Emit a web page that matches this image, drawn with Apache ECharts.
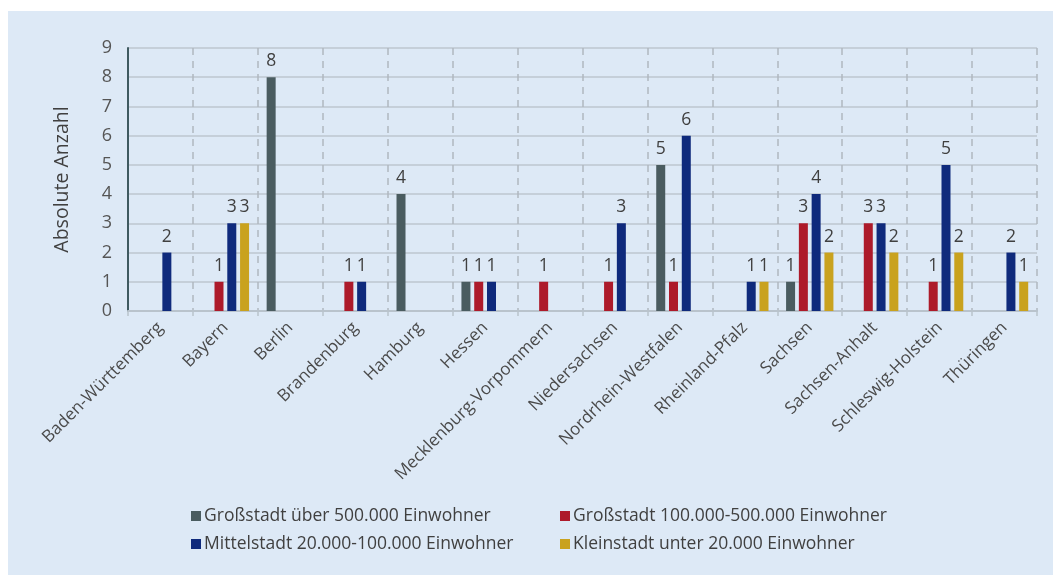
<!DOCTYPE html>
<html>
<head>
<meta charset="utf-8">
<script src="https://cdn.jsdelivr.net/npm/echarts@6/dist/echarts.min.js"></script>
<style>
html,body{margin:0;padding:0;background:#fff;}
#c{width:1053px;height:575px;}
</style>
</head>
<body>
<div id="c"></div>
<script>
const categories = ['Baden-Württemberg','Bayern','Berlin','Brandenburg','Hamburg','Hessen','Mecklenburg-Vorpommern','Niedersachsen','Nordrhein-Westfalen','Rheinland-Pfalz','Sachsen','Sachsen-Anhalt','Schleswig-Holstein','Thüringen'];
const seriesNames = ['Großstadt über 500.000 Einwohner','Großstadt 100.000-500.000 Einwohner','Mittelstadt 20.000-100.000 Einwohner','Kleinstadt unter 20.000 Einwohner'];
const grossstadt500 = [0,0,8,0,4,1,0,0,5,0,1,0,0,0];
const grossstadt100 = [0,1,0,1,0,1,1,1,1,0,3,3,1,0];
const mittelstadt   = [2,3,0,1,0,1,0,3,6,1,4,3,5,2];
const kleinstadt    = [0,3,0,0,0,0,0,0,0,1,2,2,2,1];
const yTicks = [0,1,2,3,4,5,6,7,8,9];
const colors = ['#4a5c60','#ad1a2a','#0f2a7c','#c9a21e'];

const chart = echarts.init(document.getElementById('c'));
const allData = [grossstadt500, grossstadt100, mittelstadt, kleinstadt];
const font = '"Open Sans", "Noto Sans", sans-serif';

const series = allData.map((d, i) => ({
  name: seriesNames[i],
  type: 'bar',
  data: d,
  barWidth: 9,
  barGap: '42%',
  itemStyle: { color: colors[i] },
  label: {
    show: true,
    position: 'top',
    distance: 7,
    color: '#404040',
    fontSize: 17.5,
    fontFamily: font,
    formatter: p => p.value === 0 ? '' : String(p.value)
  }
}));

const legendPos = [[186, 502], [555, 502], [186, 530], [555, 530]];
const legends = seriesNames.map((n, i) => ({
  data: [n],
  left: legendPos[i][0],
  top: legendPos[i][1],
  itemWidth: 10,
  itemHeight: 10,
  itemGap: 0,
  icon: 'rect',
  selectedMode: false,
  textStyle: { fontSize: 17.5, color: '#404040', fontFamily: font, padding: [0,0,0,-2] }
}));

chart.setOption({
  backgroundColor: '#ffffff',
  animation: false,
  color: colors,
  graphic: [{
    type: 'rect',
    z: -100,
    silent: true,
    shape: { x: 8, y: 11, width: 1045, height: 564 },
    style: { fill: '#dde9f6' }
  }],
  legend: legends,
  grid: { left: 128, right: 16, top: 48, bottom: 264, containLabel: false },
  xAxis: {
    type: 'category',
    data: categories,
    axisLine: { show: true, lineStyle: { color: '#b9c3cc', width: 2 } },
    axisTick: { show: true, length: 5, lineStyle: { color: '#b9c3cc', width: 1.5 } },
    splitLine: { show: true, lineStyle: { color: '#b0b8c0', type: [7, 6], width: 1.5 } },
    axisLabel: {
      rotate: 45,
      interval: 0,
      color: '#4a4a4a',
      fontSize: 17,
      fontFamily: font,
      margin: 14
    }
  },
  yAxis: {
    type: 'value',
    min: 0,
    max: 9,
    interval: 1,
    name: 'Absolute Anzahl',
    nameLocation: 'middle',
    nameGap: 56,
    nameRotate: 90,
    nameTextStyle: { fontSize: 19.5, color: '#404040', fontFamily: font },
    axisLine: { show: true, lineStyle: { color: '#3f5a60', width: 2 } },
    axisTick: { show: false },
    splitLine: { show: true, lineStyle: { color: '#bcc6cf', width: 1.5 } },
    axisLabel: {
      color: '#555',
      fontSize: 18,
      fontFamily: font,
      margin: 16,
      formatter: v => yTicks.includes(v) ? String(v) : ''
    }
  },
  series: series
});
</script>
</body>
</html>
